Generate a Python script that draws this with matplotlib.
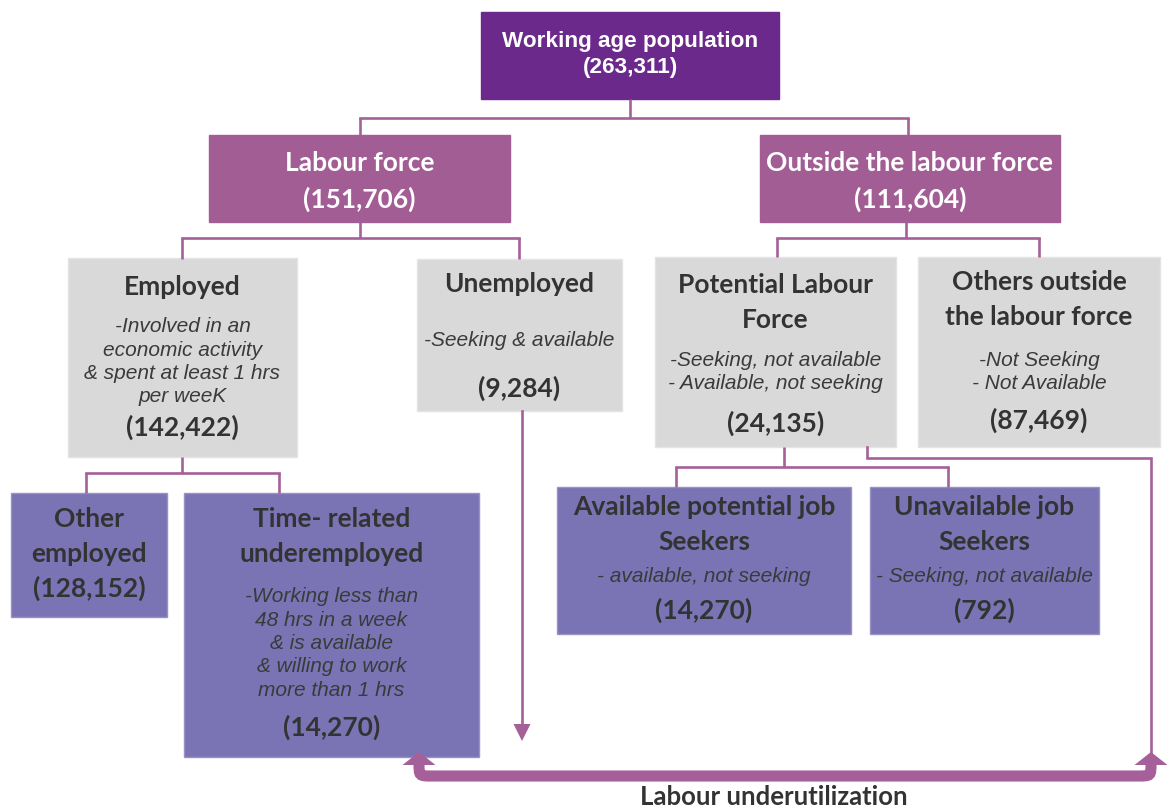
#!/usr/bin/env python3

import matplotlib
matplotlib.use('Agg')

import numpy               as np
import matplotlib.pyplot   as plt
import matplotlib.patches  as mpatches
from   matplotlib.path     import Path

# ===== Data : one entry per box
titles = ['Working age population', 'Labour force', 'Outside the labour force',
          'Employed', 'Unemployed', 'Potential Labour\nForce', 'Others outside\nthe labour force',
          'Other\nemployed', 'Time- related\nunderemployed',
          'Available potential job\nSeekers', 'Unavailable job\nSeekers']
counts = [263311, 151706, 111604,
          142422, 9284, 24135, 87469,
          128152, 14270, 14270, 792]
notes  = ['', '', '',
          '-Involved in an\neconomic activity\n& spent at least 1 hrs\nper weeK',
          '-Seeking & available',
          '-Seeking, not available\n- Available, not seeking',
          '-Not Seeking\n- Not Available',
          '',
          '-Working less than\n48 hrs in a week\n& is available\n& willing to work\nmore than 1 hrs',
          '- available, not seeking',
          '- Seeking, not available']
bottom_label = 'Labour underutilization'

# ===== Layout (pixels, y down)
#          x0    y0    x1    y1   kind  title_y note_y count_y
boxes = [ (481,  12,  779,  99, 'top',  41,   None,  67),
          (209, 135,  510, 222, 'mid', 163,   None, 199),
          (760, 135, 1060, 222, 'mid', 163,   None, 199),
          ( 68, 258,  297, 457, 'grey', 287,  327,  427),
          (417, 259,  622, 411, 'grey', 284,  340,  388),
          (655, 257,  896, 447, 'grey', 285,  360,  423),
          (918, 257, 1160, 447, 'grey', 282,  360,  420),
          ( 11, 493,  167, 617, 'low', 519,   None, 588),
          (184, 493,  479, 757, 'low', 519,   597,  727),
          (557, 487,  851, 634, 'low', 507,   576,  610),
          (870, 487, 1099, 634, 'low', 507,   576,  610) ]

fill  = {'top':'#6b2a8b', 'mid':'#a35d95', 'grey':'#d9d9d9', 'low':'#7a74b5'}
edge  = {'top':'#6b2a8b', 'mid':'#a35d95', 'grey':'#e4e4e4', 'low':'#9892c6'}
tcol  = {'top':'white',   'mid':'white',   'grey':'#333333', 'low':'#333333'}
LINE  = '#a55f99'
DARK  = '#333333'

HEAD  = ['Lato', 'DejaVu Sans']
BODY  = ['Liberation Sans', 'DejaVu Sans']
LW    = 1.9


def elbow(ax, px, py, ymid, kids, ykid):
   # parent bottom -> horizontal bar -> each child top
   ax.plot([px, px], [py, ymid], color=LINE, lw=LW, solid_capstyle='butt')
   ax.plot([min(kids), max(kids)], [ymid, ymid], color=LINE, lw=LW, solid_capstyle='projecting')
   for k in kids:
      ax.plot([k, k], [ymid, ykid], color=LINE, lw=LW, solid_capstyle='butt')


def head(ax, tip, half, h, up=True, c=LINE):
   x, y = tip
   yb   = y + h if up else y - h
   ax.add_patch(mpatches.Polygon([(x, y), (x-half, yb), (x+half, yb)],
                                 closed=True, color=c, lw=0, zorder=4))


def go():
   fig = plt.figure(figsize=(11.67, 8.10), dpi=100)
   ax  = fig.add_axes([0, 0, 1, 1])
   ax.set_xlim(0, 1167)
   ax.set_ylim(810, 0)
   ax.axis('off')

   # ----- Boxes and texts
   for i, (x0, y0, x1, y1, kind, ty, ny, cy) in enumerate(boxes):
      ax.add_patch(mpatches.Rectangle((x0, y0), x1-x0, y1-y0,
                   facecolor=fill[kind], edgecolor=edge[kind], lw=1.0, zorder=2))
      xc = 0.5*(x0+x1)
      if kind == 'top':
         fam, fs = BODY, 16.2
      else:
         fam, fs = HEAD, 19
      for j, s in enumerate(titles[i].split('\n')):
         ax.text(xc, ty + 35*j, s, ha='center', va='center', family=fam,
                 fontsize=fs, fontweight='bold', color=tcol[kind], zorder=5)
      if ny is not None:
         for j, s in enumerate(notes[i].split('\n')):
            ax.text(xc, ny + 23.3*j, s, ha='center', va='center', family=BODY,
                    fontsize=15, style='italic', color='#3a3a3a', zorder=5)
      ax.text(xc, cy, '(%s)' % format(counts[i], ','), ha='center', va='center',
              family=fam, fontsize=fs, fontweight='bold', color=tcol[kind], zorder=5)

   # ----- Tree connectors
   elbow(ax, 630, 99, 118, [360, 908], 135)
   elbow(ax, 360, 222, 238, [182, 519], 259)
   elbow(ax, 906, 222, 238, [777, 1039], 257)
   elbow(ax, 182, 457, 473, [86, 279], 493)
   elbow(ax, 784, 447, 467, [676, 948], 487)

   # ----- Unemployed arrow down
   ax.plot([522, 522], [411, 728], color=LINE, lw=LW)
   head(ax, (522, 741), 8.5, 17, up=False)

   # ----- Potential labour force -> right side, down to underutilization
   ax.plot([867, 867, 1151, 1151], [447, 458, 458, 766], color=LINE, lw=LW,
           solid_joinstyle='miter')

   # ----- Thick bracket with rounded corners
   verts = [(419, 763), (419, 776), (419, 776), (432, 776),
            (1138, 776), (1151, 776), (1151, 776), (1151, 763)]
   codes = [Path.MOVETO, Path.CURVE4, Path.CURVE4, Path.CURVE4,
            Path.LINETO, Path.CURVE4, Path.CURVE4, Path.CURVE4]
   ax.add_patch(mpatches.PathPatch(Path(verts, codes), facecolor='none',
                edgecolor=LINE, lw=8, capstyle='butt', zorder=3))
   head(ax, (419, 752), 16.5, 13, up=True)
   head(ax, (1151, 752), 16.5, 13, up=True)

   ax.text(774, 797, bottom_label, ha='center', va='center', family=HEAD,
           fontsize=18.5, fontweight='bold', color=DARK)

   fig.savefig('out.png', dpi=100)
   plt.close(fig)


go()
